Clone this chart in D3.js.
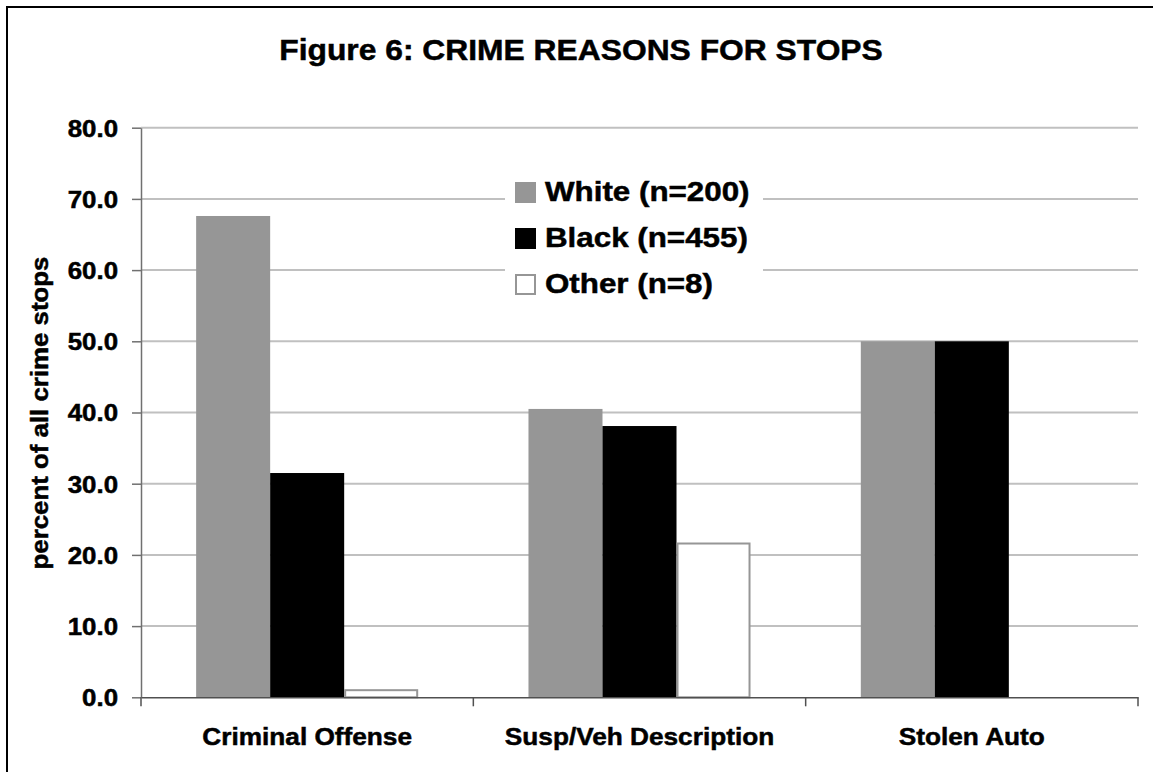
<!DOCTYPE html>
<html>
<head>
<meta charset="utf-8">
<script src="https://cdn.jsdelivr.net/npm/d3@7"></script>
<style>
  body { margin: 0; background: #fff; }
  text { font-family: "Liberation Sans", Arial, sans-serif; font-weight: bold; fill: #000; stroke: #000; stroke-width: 0.5px; }
</style>
</head>
<body>
<svg width="1153" height="772"></svg>
<script>
// chart values
var categories = ["Criminal Offense", "Susp/Veh Description", "Stolen Auto"];
var seriesNames = ["White (n=200)", "Black (n=455)", "Other (n=8)"];
var white = [67.6, 40.5, 50.0];
var black = [31.5, 38.1, 50.0];
var other = [1.0, 21.6, 0.0];
var yTicks = [0, 10, 20, 30, 40, 50, 60, 70, 80];

var fills = ["#969696", "#000000", "#ffffff"];
var strokes = ["none", "none", "#969696"];

var svg = d3.select("svg"),
    plot = {left: 141, right: 1138, top: 127.7, bottom: 697.3};

// outer frame (only left and top edges are inside the picture)
svg.append("rect")
    .attr("x", 7).attr("y", 7)
    .attr("width", 1170).attr("height", 800)
    .attr("fill", "none")
    .attr("stroke", "#000")
    .attr("stroke-width", 2);

var x0 = d3.scaleBand().domain(categories).range([plot.left, plot.right]).padding(0);
var x1 = d3.scaleBand().domain(seriesNames).range([0, x0.bandwidth()])
    .paddingInner(0).paddingOuter(0.745);
var y = d3.scaleLinear().domain([0, 80]).range([plot.bottom, plot.top]);

// title
svg.append("text")
    .attr("transform", "translate(581,60) scale(1.06,1)")
    .attr("text-anchor", "middle")
    .style("font-size", "30px")
    .text("Figure 6: CRIME REASONS FOR STOPS");

// gridlines
svg.append("g").selectAll("line")
    .data(yTicks.filter(function(d) { return d > 0; }))
    .enter().append("line")
      .attr("x1", plot.left).attr("x2", plot.right)
      .attr("y1", function(d) { return y(d); })
      .attr("y2", function(d) { return y(d); })
      .attr("stroke", "#c0c0c0")
      .attr("stroke-width", 2);

// building rows from the arrays
var rows = categories.map(function(c, i) {
  return {cat: c, values: [white[i], black[i], other[i]]};
});

var groups = svg.append("g").selectAll("g")
    .data(rows)
    .enter().append("g")
      .attr("transform", function(d) { return "translate(" + x0(d.cat) + ",0)"; });

groups.selectAll("rect")
    .data(function(d) {
      return d.values.map(function(v, k) { return {k: k, v: v}; })
        .filter(function(e) { return e.v > 0; });
    })
    .enter().append("rect")
      .attr("x", function(d) { return x1(seriesNames[d.k]) + (d.k == 2 ? 1 : 0); })
      .attr("y", function(d) { return y(d.v); })
      .attr("width", function(d) { return x1.bandwidth() - (d.k == 2 ? 2 : 0); })
      .attr("height", function(d) { return y(0) - y(d.v); })
      .attr("fill", function(d) { return fills[d.k]; })
      .attr("stroke", function(d) { return strokes[d.k]; })
      .attr("stroke-width", 2);

// y axis
var yAxis = svg.append("g")
    .attr("transform", "translate(" + plot.left + ",0)")
    .call(d3.axisLeft(y).tickValues(yTicks).tickFormat(d3.format(".1f")).tickSize(9).tickSizeOuter(0));
yAxis.select(".domain").attr("stroke", "#707070").attr("stroke-width", 1.5);
yAxis.selectAll(".tick line").attr("stroke", "#707070").attr("stroke-width", 1.5);
yAxis.selectAll(".tick text")
    .attr("x", -23 / 1.1)
    .attr("dy", "0.36em")
    .attr("transform", "scale(1.1,1)")
    .style("font-size", "23.5px")
    .style("font-family", "'Liberation Sans', Arial, sans-serif")
    .style("font-weight", "bold")
    .attr("fill", "#000");

// x axis
var xAxis = svg.append("g")
    .attr("transform", "translate(0," + plot.bottom + ")")
    .call(d3.axisBottom(x0).tickSize(0).tickSizeOuter(0));
xAxis.select(".domain").attr("stroke", "#505050").attr("stroke-width", 1.5);
xAxis.selectAll(".tick text")
    .attr("y", 48)
    .attr("dy", 0)
    .attr("transform", "scale(1.07,1)")
    .style("font-size", "24.5px")
    .style("font-family", "'Liberation Sans', Arial, sans-serif")
    .style("font-weight", "bold")
    .attr("fill", "#000");

// tick marks between categories
xAxis.selectAll(".sep")
    .data(categories.map(function(c) { return x0(c); }).concat([plot.right]))
    .enter().append("line")
      .attr("class", "sep")
      .attr("x1", function(d) { return d; }).attr("x2", function(d) { return d; })
      .attr("y1", 0).attr("y2", 9)
      .attr("stroke", "#505050")
      .attr("stroke-width", 1.5);

// y axis title
svg.append("text")
    .attr("transform", "translate(48," + (y(40) + 0.5) + ") rotate(-90) scale(1.1,1)")
    .attr("text-anchor", "middle")
    .style("font-size", "23.5px")
    .text("percent of all crime stops");

// legend
var legend = svg.append("g");
legend.append("rect")
    .attr("x", 505).attr("y", 170)
    .attr("width", 258).attr("height", 138)
    .attr("fill", "#fff");

var items = legend.selectAll(".item")
    .data(seriesNames)
    .enter().append("g")
      .attr("class", "item")
      .attr("transform", function(d, i) { return "translate(515," + (182 + i * 46) + ")"; });

items.append("rect")
    .attr("x", function(d, i) { return i == 2 ? 1 : 0; })
    .attr("y", function(d, i) { return i == 2 ? 1 : 0; })
    .attr("width", function(d, i) { return i == 2 ? 19 : 21; })
    .attr("height", function(d, i) { return i == 2 ? 19 : 21; })
    .attr("fill", function(d, i) { return fills[i]; })
    .attr("stroke", function(d, i) { return strokes[i]; })
    .attr("stroke-width", 2);

items.append("text")
    .attr("transform", "translate(30,19) scale(1.1,1)")
    .style("font-size", "28.5px")
    .text(function(d) { return d; });
</script>
</body>
</html>
